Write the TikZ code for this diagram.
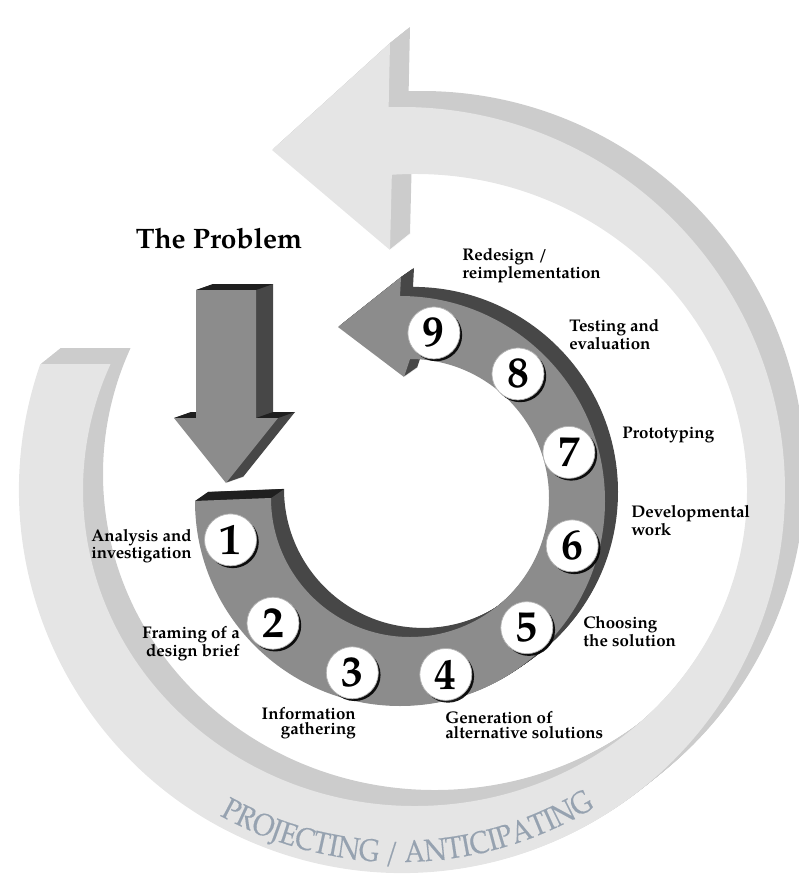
\documentclass[tikz,border=0pt]{standalone}
\usepackage{fontspec}
\setmainfont{texgyrepagella}[Extension=.otf, UprightFont=*-regular, BoldFont=*-bold, ItalicFont=*-italic, BoldItalicFont=*-bolditalic]
\newfontfamily\projfont{texgyrepagella}[Extension=.otf, UprightFont=*-regular, FakeStretch=0.86, FakeBold=0.4]
\usetikzlibrary{shadows,decorations.text}

\definecolor{bigface}{gray}{0.90}
\definecolor{bigside}{gray}{0.80}
\definecolor{ringface}{gray}{0.55}
\definecolor{ringside}{gray}{0.28}
\definecolor{capdark}{gray}{0.12}
\definecolor{projtext}{RGB}{150,162,176}

\begin{document}
\begin{tikzpicture}[x=0.025cm, y=-0.025cm,
	numcirc/.style={circle, fill=white, draw=gray!60, line width=0.5pt, minimum size=1.3cm, inner sep=0pt,
		font=\fontsize{31}{31}\selectfont\bfseries,
		drop shadow={shadow xshift=1.6pt, shadow yshift=-1.6pt, opacity=0.9, fill=black}},
	steplabel/.style={font=\fontsize{12}{10.5}\selectfont\bfseries, inner sep=0pt}]

	\useasboundingbox (0,0) rectangle (798,882);

	\def\bigarrow{([shift={(402,490)}]199.2:383) arc (199.2:-92:383) -- (390,43) -- (272,150) -- (390,250)
		-- ([shift={(415,490)}]-94:332 and 316) arc (-94:203.5:332 and 316) -- cycle}
	\def\ringarrow{(195,501) arc (180:-90:205) -- (401,277) -- (338,327) -- (404,377)
		-- (410,359) arc (-90:180:139) -- cycle}
	\def\probarrow{(196,290) -- (256,290) -- (256,418) -- (278,418) -- (226,483) -- (174,418) -- (196,418) -- cycle}

	% outer arrow
	\foreach \k in {1,...,20}
		\fill[bigside, shift={(\k,-0.8*\k)}] \bigarrow;
	\fill[bigface] \bigarrow;
	\path[decorate, decoration={text along path, text align=center, text color=projtext,
		text={|\fontsize{22}{22}\projfont|PROJECTING / ANTICIPATING}}]
		([shift={(400,490)}]128.7:372) arc (128.7:48.7:372);

	% inner arrow
	\foreach \k in {1,...,13}
		\fill[ringside, shift={(\k,-0.7*\k)}] \ringarrow;
	\fill[capdark] (195,501) -- (271,498) -- (284,489) -- (208,492) -- cycle;
	\fill[ringface] \ringarrow;

	% the problem
	\foreach \k in {1,...,17}
		\fill[ringside, shift={(\k,-0.35*\k)}] \probarrow;
	\fill[capdark] (196,290) -- (256,290) -- (273,284) -- (213,284) -- cycle;
	\fill[capdark] (174,418) -- (196,418) -- (213,412) -- (191,412) -- cycle;
	\fill[capdark] (256,418) -- (278,418) -- (295,412) -- (273,412) -- cycle;
	\fill[ringface] \probarrow;
	\node[font=\fontsize{20}{20}\selectfont\bfseries] (problem) at (219,239) {The Problem};

	% steps
	\foreach \i [evaluate=\i as \ang using 168.5-31*(\i-1)] in {1,...,9}
		\node[numcirc] (n\i) at ([shift={(402,505)}]\ang:175) {\i};

	\node[steplabel, anchor=east, align=right] (lab1) at (192,546) {Analysis and\\investigation};
	\node[steplabel, anchor=east, align=right] (lab2) at (240,644) {Framing of a\\design brief};
	\node[steplabel, anchor=east, align=right] (lab3) at (356,723) {Information\\gathering};
	\node[steplabel, anchor=west, align=left] (lab4) at (445,725) {Generation of\\alternative solutions};
	\node[steplabel, anchor=west, align=left] (lab5) at (583,632) {Choosing\\the solution};
	\node[steplabel, anchor=west, align=left] (lab6) at (631,521) {Developmental\\work};
	\node[steplabel, anchor=west, align=left] (lab7) at (622,435) {Prototyping};
	\node[steplabel, anchor=west, align=left] (lab8) at (569,335) {Testing and\\evaluation};
	\node[steplabel, anchor=west, align=left] (lab9) at (462,266) {Redesign /\\reimplementation};

\end{tikzpicture}
\end{document}
